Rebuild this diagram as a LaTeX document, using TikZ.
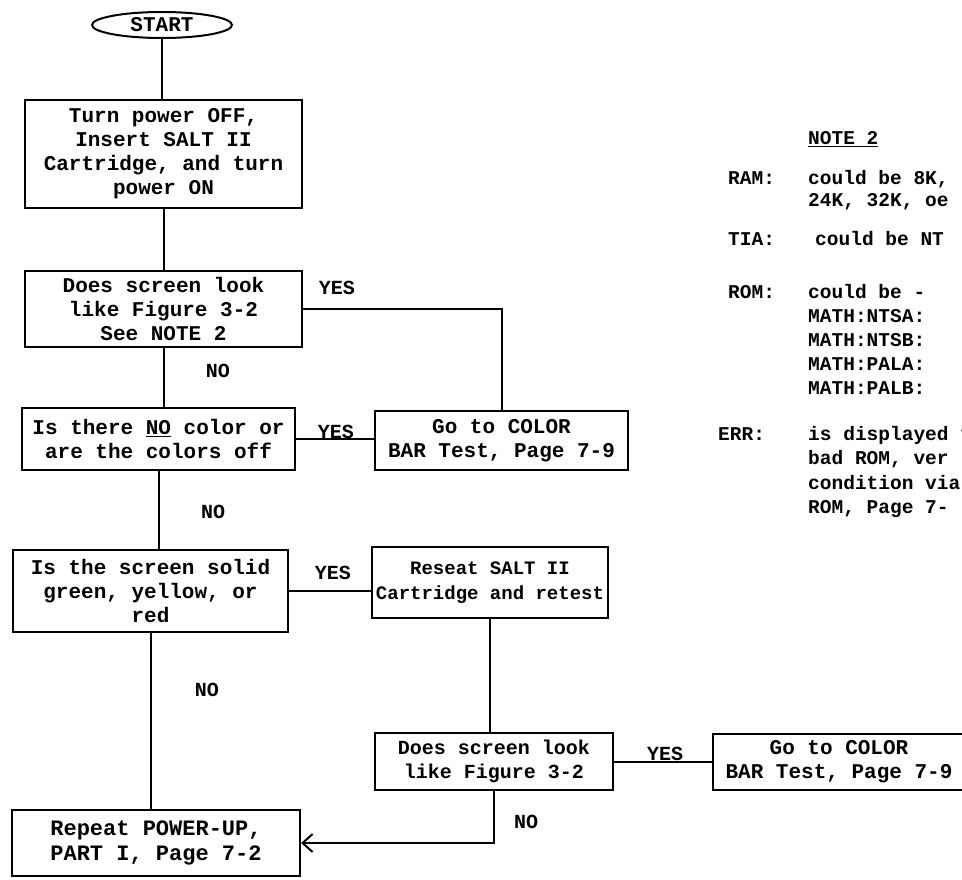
\documentclass[tikz,border=0pt]{standalone}
\usepackage{fontspec}
\setmainfont{Liberation Mono}
\usetikzlibrary{arrows.meta,shapes.geometric}

\begin{document}
\begin{tikzpicture}[
    x=1pt, y=-1pt,
    every node/.style={font=\fontsize{21}{24}\selectfont\bfseries},
    box/.style={draw, line width=2.2pt, align=center, inner sep=0pt},
    terminal/.style={draw, ellipse, line width=2pt, inner sep=0pt, minimum width=140pt, minimum height=26pt},
    answer/.style={inner sep=0pt, font=\fontsize{20}{24}\selectfont\bfseries},
    link/.style={line width=2pt},
    remark/.style={anchor=base west, inner sep=0pt, font=\fontsize{19.5}{24}\selectfont\bfseries},
]
\useasboundingbox (0,0) rectangle (962,880);
\clip (0,0) rectangle (962,880);

% left column
\node[terminal] (start) at (162,25) {START};
\node[box, minimum width=277pt, minimum height=108pt] (powerOn) at (163.5,154) {Turn power OFF,\\Insert SALT II\\Cartridge, and turn\\power ON};
\node[box, minimum width=277pt, minimum height=76pt] (lookFig) at (163.5,309) {Does screen look\\like Figure 3-2\\See NOTE 2};
\node[box, minimum width=273pt, minimum height=62pt] (noColor) at (158.5,439) {Is there \underline{NO} color or\\are the colors off};
\node[box, minimum width=275pt, minimum height=82pt] (solidScreen) at (150.5,591) {Is the screen solid\\green, yellow, or\\red};
\node[box, minimum width=288pt, minimum height=66pt, font=\fontsize{22}{25}\selectfont\bfseries] (repeatUp) at (156,843) {Repeat POWER-UP,\\PART I, Page 7-2};

% right column
\node[box, minimum width=253pt, minimum height=59pt] (colorBarA) at (501.5,440.5) {Go to COLOR\\BAR Test, Page 7-9};
\node[box, minimum width=236pt, minimum height=71pt, font=\fontsize{19}{25}\selectfont\bfseries] (reseat) at (490,582.5) {Reseat SALT II\\Cartridge and retest};
\node[box, minimum width=238pt, minimum height=57pt, font=\fontsize{20}{24}\selectfont\bfseries] (lookAgain) at (494,761.5) {Does screen look\\like Figure 3-2};
\node[box, minimum width=252pt, minimum height=56pt] (colorBarB) at (839,762) {Go to COLOR\\BAR Test, Page 7-9};

% connectors
\draw[link] (start.south) -- (start.south |- powerOn.north);
\draw[link] (powerOn.south) -- (lookFig.north);
\draw[link] (lookFig.east) -| (colorBarA.north);
\draw[link] (lookFig.south) -- (lookFig.south |- noColor.north);
\draw[link] (noColor.east) -- (noColor.east -| colorBarA.west);
\draw[link] (noColor.south) -- (noColor.south |- solidScreen.north);
\draw[link] (solidScreen.east) -- (solidScreen.east -| reseat.west);
\draw[link] (solidScreen.south) -- (solidScreen.south |- repeatUp.north);
\draw[link] (reseat.south) -- (reseat.south |- lookAgain.north);
\draw[link] (lookAgain.east) -- (lookAgain.east -| colorBarB.west);
\draw[link, -{Straight Barb[length=10pt, width=18pt]}] (lookAgain.south) |- (repeatUp.east);

% answers
\node[answer] (yesA) at (337,288) {YES};
\node[answer] (noA) at (218,371) {NO};
\node[answer] (yesB) at (336,432) {YES};
\node[answer] (noB) at (213,512) {NO};
\node[answer] (yesC) at (333,573) {YES};
\node[answer] (noC) at (207,690) {NO};
\node[answer] (yesD) at (665,754) {YES};
\node[answer] (noD) at (526,822) {NO};

% note 2
\node[remark] (noteHead) at (808,145) {\underline{NOTE 2}};
\node[remark] (ramKey) at (728,185) {RAM:};
\node[remark] (ramText) at (808,185) {could be 8K,};
\node[remark] (ramMore) at (808,207) {24K, 32K, oe};
\node[remark] (tiaKey) at (728,245) {TIA:};
\node[remark] (tiaText) at (815,245) {could be NT};
\node[remark] (romKey) at (728,298) {ROM:};
\node[remark] (romText) at (808,298) {could be -};
\foreach \chip [count=\i] in {NTSA,NTSB,PALA,PALB}
  \node[remark] (math\i) at (808,{298+24*\i}) {MATH:\chip:};
\node[remark] (errKey) at (718,440) {ERR:};
\node[remark] (errText) at (808,440) {is displayed f};
\node[remark] (errMore) at (808,464) {bad ROM, ver};
\node[remark] (errVia) at (808,489) {condition via};
\node[remark] (errPage) at (808,513) {ROM, Page 7-};
\end{tikzpicture}
\end{document}
